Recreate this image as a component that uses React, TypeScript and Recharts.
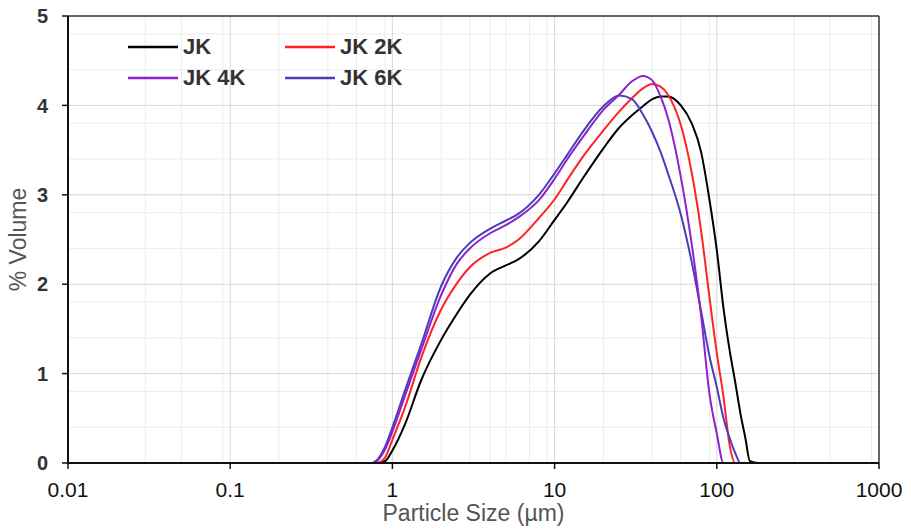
import React from 'react';
import { LineChart, Line, XAxis, YAxis, CartesianGrid, ReferenceLine } from 'recharts';

const sizes = [0.1, 0.75, 0.8, 0.9, 1, 1.2, 1.5, 2, 2.5, 3, 4, 5, 6, 8, 10, 12, 15, 20, 25, 30, 35, 40, 45, 50, 60, 70, 80, 90, 100, 110, 120, 130, 140, 150, 160, 180, 1000];
const jk =   [0, 0, 0, 0.02, 0.14, 0.44, 0.92, 1.38, 1.67, 1.88, 2.12, 2.21, 2.28, 2.48, 2.72, 2.92, 3.19, 3.52, 3.75, 3.89, 3.99, 4.07, 4.10, 4.10, 4.00, 3.80, 3.48, 2.95, 2.38, 1.73, 1.26, 0.90, 0.55, 0.28, 0.02, 0, 0];
const jk2k = [0, 0, 0, 0.06, 0.26, 0.63, 1.17, 1.72, 2.01, 2.19, 2.35, 2.41, 2.50, 2.74, 2.95, 3.17, 3.43, 3.72, 3.93, 4.08, 4.19, 4.24, 4.21, 4.12, 3.78, 3.25, 2.60, 1.86, 1.23, 0.74, 0.20, 0, 0, 0, 0, 0, 0];
const jk4k = [0, 0, 0.02, 0.15, 0.35, 0.76, 1.26, 1.88, 2.23, 2.40, 2.57, 2.66, 2.75, 2.94, 3.18, 3.40, 3.65, 3.95, 4.12, 4.27, 4.33, 4.28, 4.10, 3.86, 3.20, 2.45, 1.65, 0.78, 0.33, 0, 0, 0, 0, 0, 0, 0, 0];
const jk6k = [0, 0, 0.03, 0.18, 0.40, 0.82, 1.32, 1.98, 2.30, 2.46, 2.62, 2.71, 2.79, 3.00, 3.24, 3.45, 3.71, 3.99, 4.11, 4.07, 3.90, 3.70, 3.48, 3.24, 2.78, 2.25, 1.70, 1.20, 0.85, 0.50, 0.28, 0.11, 0, 0, 0, 0, 0];

const xTicks = [0.01, 0.1, 1, 10, 100, 1000];
const xTickLabels = ['0.01', '0.1', '1', '10', '100', '1000'];
const yTicks = [0, 1, 2, 3, 4, 5];
const xMinor = [0.02, 0.03, 0.04, 0.05, 0.06, 0.07, 0.08, 0.09, 0.2, 0.3, 0.4, 0.5, 0.6, 0.7, 0.8, 0.9, 2, 3, 4, 5, 6, 7, 8, 9, 20, 30, 40, 50, 60, 70, 80, 90, 200, 300, 400, 500, 600, 700, 800, 900];
const yMinor = [0.2, 0.4, 0.6, 0.8, 1.2, 1.4, 1.6, 1.8, 2.2, 2.4, 2.6, 2.8, 3.2, 3.4, 3.6, 3.8, 4.2, 4.4, 4.6, 4.8];
const xMajor = [0.1, 1, 10, 100];
const yMajor = [1, 2, 3, 4];

const series = [
  { key: 'jk', name: 'JK', color: '#000000', values: jk },
  { key: 'jk2k', name: 'JK 2K', color: '#FF2323', values: jk2k },
  { key: 'jk6k', name: 'JK 6K', color: '#4A3DBA', values: jk6k },
  { key: 'jk4k', name: 'JK 4K', color: '#8B22CC', values: jk4k },
];
const legendOrder = ['jk', 'jk2k', 'jk4k', 'jk6k'];

const data = sizes.map((s, i) => {
  const row: Record<string, number> = { size: s };
  series.forEach((sr) => { row[sr.key] = sr.values[i]; });
  return row;
});

const FONT = '"Liberation Sans", Arial, Helvetica, sans-serif';

export default function App() {
  return (
    <div style={{ position: 'absolute', left: 0, top: 0, width: 911, height: 532, background: '#fff', fontFamily: FONT }}>
      <LineChart width={911} height={532} data={data} margin={{ top: 16, right: 32, bottom: 0, left: 0 }}>
        <CartesianGrid stroke="#ececec" strokeWidth={1} horizontalValues={yMinor} verticalValues={xMinor} />
        <CartesianGrid stroke="#d8d8d8" strokeWidth={1} horizontalValues={yMajor} verticalValues={xMajor} />
        <XAxis
          dataKey="size"
          type="number"
          scale="log"
          domain={[0.01, 1000]}
          ticks={xTicks}
          tickFormatter={(v: number) => xTickLabels[xTicks.indexOf(v)] ?? String(v)}
          allowDataOverflow
          height={69}
          tickSize={6}
          tickMargin={13}
          axisLine={{ stroke: '#111', strokeWidth: 2 }}
          tickLine={{ stroke: '#111', strokeWidth: 1.5 }}
          tick={{ fontSize: 21, fill: '#111', fontFamily: FONT }}
          label={{ value: 'Particle Size (µm)', position: 'insideBottom', offset: 11, fontSize: 23, fill: '#555', fontFamily: FONT }}
        />
        <YAxis
          type="number"
          domain={[0, 5]}
          ticks={yTicks}
          width={68}
          tickSize={6}
          tickMargin={14}
          axisLine={{ stroke: '#111', strokeWidth: 2 }}
          tickLine={{ stroke: '#111', strokeWidth: 1.5 }}
          tick={{ fontSize: 20, fontWeight: 'bold', fill: '#333', fontFamily: FONT }}
          label={{ value: '% Volume', angle: -90, position: 'center', dx: -16, fontSize: 23, fill: '#555', fontFamily: FONT }}
        />
        <ReferenceLine y={5} stroke="#333" strokeWidth={1.5} />
        <ReferenceLine x={1000} stroke="#333" strokeWidth={1.5} />
        {series.map((s) => (
          <Line
            key={s.key}
            dataKey={s.key}
            name={s.name}
            type="monotone"
            stroke={s.color}
            strokeWidth={2}
            dot={false}
            activeDot={false}
            isAnimationActive={false}
          />
        ))}
      </LineChart>
      <div style={{ position: 'absolute', left: 128, top: 36, display: 'grid', gridTemplateColumns: '157px 160px', rowGap: 9 }}>
        {legendOrder.map((k) => {
          const s = series.find((x) => x.key === k)!;
          return (
            <div key={k} style={{ display: 'flex', alignItems: 'center', height: 22 }}>
              <svg width={50} height={6} style={{ display: 'block' }}>
                <line x1={0} y1={3} x2={50} y2={3} stroke={s.color} strokeWidth={2.5} />
              </svg>
              <span style={{ marginLeft: 5, fontSize: 22, fontWeight: 'bold', color: '#333', lineHeight: '22px' }}>{s.name}</span>
            </div>
          );
        })}
      </div>
    </div>
  );
}
